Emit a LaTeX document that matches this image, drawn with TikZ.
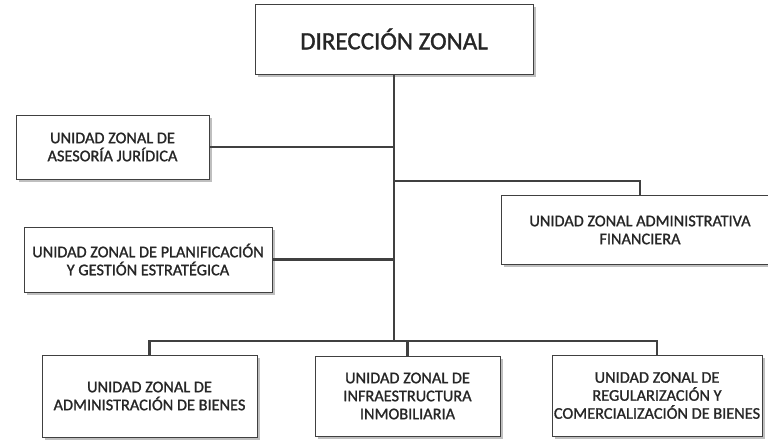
\documentclass[tikz,border=0pt]{standalone}
\usepackage{fontspec}
\setmainfont{Carlito}
\newfontfamily\unitfont[UprightFeatures={FakeBold=1.2}]{Carlito}
\usepackage{xcolor}
\usepackage{tikz}
\usetikzlibrary{shadows}

\definecolor{linegray}{HTML}{404040}
\definecolor{textgray}{HTML}{262626}

\begin{document}
\begin{tikzpicture}[x=1pt,y=-1pt,
        unit/.style={draw=linegray, line width=1pt, fill=white, align=center,
            inner sep=0pt, text=textgray,
            font=\unitfont\fontsize{16.3}{18}\selectfont,
            drop shadow={shadow xshift=2.5pt, shadow yshift=-2.5pt, fill=black!25, opacity=1}},
        conn/.style={draw=linegray, line width=2.2pt}]
        \useasboundingbox (0,0) rectangle (768,439);

        % Draw the boxes
        \node[unit, minimum width=278pt, minimum height=70pt,
            font=\unitfont\fontsize{25}{29}\selectfont] (dir) at (394,39) {DIRECCIÓN ZONAL};
        \node[unit, minimum width=193pt, minimum height=64pt] (ases) at (112.5,147)
            {UNIDAD ZONAL DE\\ASESORÍA JURÍDICA};
        \node[unit, minimum width=248pt, minimum height=65pt] (plan) at (148,259.5)
            {UNIDAD ZONAL DE PLANIFICACIÓN\\Y GESTIÓN ESTRATÉGICA};
        \node[unit, minimum width=278pt, minimum height=69pt] (admfin) at (640,230)
            {UNIDAD ZONAL ADMINISTRATIVA\\FINANCIERA};
        \node[unit, minimum width=215pt, minimum height=82pt] (adm) at (149.5,396)
            {UNIDAD ZONAL DE\\ADMINISTRACIÓN DE BIENES};
        \node[unit, minimum width=185pt, minimum height=80pt] (infra) at (407.5,396)
            {UNIDAD ZONAL DE\\INFRAESTRUCTURA\\INMOBILIARIA};
        \node[unit, minimum width=210pt, minimum height=81pt] (reg) at (657,395.5)
            {UNIDAD ZONAL DE\\REGULARIZACIÓN Y\\COMERCIALIZACIÓN DE BIENES};

        \coordinate (bus) at (394,341);
        \coordinate (fork) at (394,181);

        % Draw the connectors
        \draw[conn] (dir.south) -- (bus);
        \draw[conn] (ases.east) -- (ases.east -| dir.south);
        \draw[conn] (plan.east) -- (plan.east -| dir.south);
        \draw[conn] (fork) -| (admfin.north);
        \draw[conn] (adm.north) |- (bus) -| (reg.north);
        \draw[conn] (infra.north) -- (infra.north |- bus);
    \end{tikzpicture}
\end{document}
